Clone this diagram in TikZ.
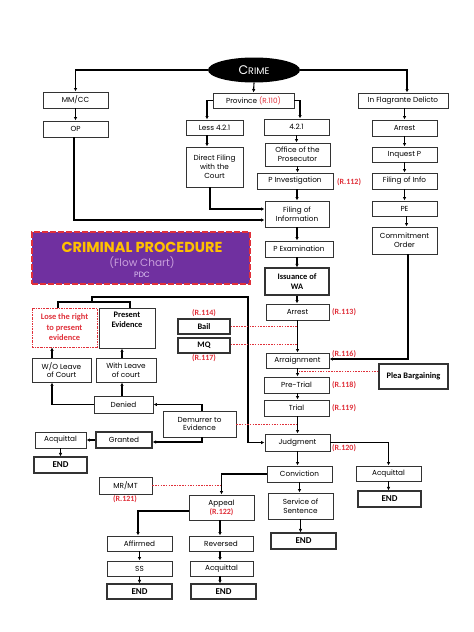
\documentclass[tikz,border=0pt]{standalone}
\usepackage{fontspec}
\setmainfont{Poppins}
\newfontfamily\cb{Carlito}
\usetikzlibrary{arrows.meta,calc,shapes.geometric}
\definecolor{rl}{HTML}{E0303A}
\definecolor{tpurple}{HTML}{7030A0}
\definecolor{tgold}{HTML}{FFC000}
\definecolor{tlav}{HTML}{C9A0DC}
\definecolor{tlav2}{HTML}{E0C8F4}
\begin{document}
\begin{tikzpicture}[x=1pt,y=-1pt,
 box/.style={draw=black!80, line width=0.9pt, fill=white, align=center, font=\fontsize{7.3}{8.8}\selectfont, inner sep=1pt},
 bbox/.style={box, line width=1.2pt, font=\cb\bfseries\fontsize{8.4}{10}\selectfont},
 ebox/.style={bbox, font=\cb\bfseries\fontsize{9}{10}\selectfont},
 arr/.style={-{Latex[length=3.5pt,width=3.5pt]}, line width=1.1pt},
 ln/.style={line width=1.1pt},
 dotl/.style={rl, dash pattern=on 1.5pt off 1.2pt, line width=0.7pt},
 rlab/.style={text=rl, font=\cb\bfseries\fontsize{8}{9}\selectfont, inner sep=0pt},
]
\useasboundingbox (0,0) rectangle (474,632);
\fill[white] (0,0) rectangle (474,632);

% title
\node[draw=rl, fill=tpurple, line width=1.6pt, dash pattern=on 6pt off 2pt, minimum width=218pt, minimum height=52pt] (title) at (141,258) {};
\node[text=tgold, font=\bfseries\fontsize{14.5}{15}\selectfont, inner sep=0pt] (t1) at (142,247) {CRIMINAL PROCEDURE};
\node[text=tlav, font=\fontsize{10.5}{11}\selectfont, inner sep=0pt] (t2) at (142,263) {(Flow Chart)};
\node[text=tlav2, font=\fontsize{7.7}{8}\selectfont, inner sep=0pt] (t3) at (142,274.5) {PDC};

% top
\node[ellipse, fill=black, minimum width=92pt, minimum height=25pt, inner sep=0pt, text=white] (crime) at (254,70) {{\fontsize{12.5}{13}\selectfont C}{\fontsize{9.5}{10}\selectfont RIME}};
\node[box, minimum width=65pt, minimum height=16pt] (mmcc) at (75.5,100) {MM/CC};
\node[box, minimum width=65pt, minimum height=16pt] (op) at (75.5,129) {OP};
\node[box, minimum width=81pt, minimum height=15pt] (prov) at (253.5,100.5) {Province {\color{rl}(R.110)}};
\node[box, minimum width=57pt, minimum height=15pt] (less) at (214.5,127.5) {Less 4.2.1};
\node[box, minimum width=65pt, minimum height=16pt] (f421) at (296.5,127) {4.2.1};
\node[box, minimum width=57pt, minimum height=40pt] (direct) at (214.5,167) {Direct Filing\\with the\\Court};
\node[box, minimum width=65pt, minimum height=23pt] (office) at (297.5,154.5) {Office of the\\Prosecutor};
\node[box, minimum width=76pt, minimum height=16pt] (pinv) at (295,181) {P Investigation};
\node[box, minimum width=64pt, minimum height=26pt] (filing) at (297,214) {Filing of\\Information};
\node[box, minimum width=68pt, minimum height=16pt] (pexam) at (299,249) {P Examination};
\node[bbox, minimum width=64pt, minimum height=27pt] (issue) at (297,281.5) {Issuance of\\WA};
\node[box, minimum width=63pt, minimum height=16pt] (arrest) at (297.5,312) {Arrest};
\node[box, minimum width=63pt, minimum height=15pt] (arraign) at (297.5,360.5) {Arraignment};
\node[box, minimum width=65pt, minimum height=16pt] (pretrial) at (296.5,385) {Pre-Trial};
\node[box, minimum width=65pt, minimum height=16pt] (trial) at (296.5,408) {Trial};
\node[box, minimum width=65pt, minimum height=17pt] (judg) at (297.5,442.5) {Judgment};
\node[box, minimum width=65pt, minimum height=16pt] (conv) at (299.5,474) {Conviction};
\node[box, minimum width=65pt, minimum height=26pt] (serv) at (300.5,506) {Service of\\Sentence};
\node[ebox, minimum width=65pt, minimum height=16pt] (endS) at (303.5,541) {END};
\node[box, minimum width=65pt, minimum height=15pt] (acqR) at (388.5,473.5) {Acquittal};
\node[ebox, minimum width=63pt, minimum height=16pt] (endR) at (389.5,499) {END};
\node[box, minimum width=65pt, minimum height=25pt] (appeal) at (221.5,507.5) {Appeal\\{\cb\bfseries\fontsize{8}{9}\selectfont\color{rl}(R.122)}};
\node[box, minimum width=53pt, minimum height=17pt] (mrmt) at (125.5,485.5) {MR/MT};
\node[box, minimum width=65pt, minimum height=15pt] (affirm) at (139.5,543.5) {Affirmed};
\node[box, minimum width=65pt, minimum height=15pt] (ss) at (139.5,568.5) {SS};
\node[ebox, minimum width=65pt, minimum height=15pt] (endA) at (139.5,591.5) {END};
\node[box, minimum width=64pt, minimum height=15pt] (rev) at (221,543.5) {Reversed};
\node[box, minimum width=63pt, minimum height=15pt] (acqM) at (221.5,568.5) {Acquittal};
\node[ebox, minimum width=65pt, minimum height=15pt] (endM) at (223.5,591.5) {END};

% right column
\node[box, minimum width=90pt, minimum height=15pt] (inflag) at (403,100.5) {In Flagrante Delicto};
\node[box, minimum width=65pt, minimum height=16pt] (arrest2) at (404.5,128) {Arrest};
\node[box, minimum width=65pt, minimum height=15pt] (inq) at (404.5,154.5) {Inquest P};
\node[box, minimum width=65pt, minimum height=16pt] (finfo) at (404.5,181) {Filing of Info};
\node[box, minimum width=65pt, minimum height=15pt] (pe) at (404.5,208.5) {PE};
\node[box, minimum width=65pt, minimum height=27pt] (commit) at (404.5,240.5) {Commitment\\Order};
\node[bbox, minimum width=69pt, minimum height=25pt] (plea) at (413.5,376.5) {Plea Bargaining};

% left middle
\node[draw=rl, line width=0.8pt, dash pattern=on 2pt off 1pt on 0.6pt off 1pt, align=center, minimum width=65pt, minimum height=39pt, inner sep=1pt, text=rl, font=\cb\bfseries\fontsize{8.4}{10.5}\selectfont] (lose) at (64.5,327.5) {Lose the right\\to present\\evidence};
\node[bbox, line width=0.9pt, minimum width=56pt, minimum height=40pt] (present) at (127,328) {Present\\Evidence\\[6pt]};
\node[bbox, minimum width=52pt, minimum height=15pt] (bail) at (204,326.5) {Bail};
\node[bbox, minimum width=52pt, minimum height=15pt] (mq) at (204,345.5) {MQ};
\node[box, minimum width=59pt, minimum height=24pt] (wo) at (61.5,370) {W/O Leave\\of Court};
\node[box, minimum width=60pt, minimum height=24pt] (withl) at (126,370) {With Leave\\of court};
\node[box, minimum width=59pt, minimum height=17pt] (denied) at (123.5,404.5) {Denied};
\node[box, minimum width=73pt, minimum height=26pt] (dem) at (199.5,424) {Demurrer to\\Evidence};
\node[box, line width=1.2pt, minimum width=56pt, minimum height=16pt] (granted) at (124,440) {Granted};
\node[box, minimum width=51pt, minimum height=16pt] (acqL) at (60.5,440) {Acquittal};
\node[ebox, minimum width=53pt, minimum height=16pt] (endL) at (60.5,465) {END};

% red labels
\node[rlab, anchor=west] (r112) at (337,182) {(R.112)};
\node[rlab, anchor=west] (r113) at (332,312) {(R.113)};
\node[rlab, anchor=west] (r116) at (332,354) {(R.116)};
\node[rlab, anchor=west] (r118) at (332,385) {(R.118)};
\node[rlab, anchor=west] (r119) at (332,408) {(R.119)};
\node[rlab, anchor=west] (r120) at (332,448) {(R.120)};
\node[rlab] (r114) at (204,313) {(R.114)};
\node[rlab] (r117) at (204,358.5) {(R.117)};
\node[rlab] (r121) at (125,499.5) {(R.121)};

% connectors top
\draw[arr] (crime.west) -| (mmcc.north);
\draw[arr] (crime.south) -- (prov.north);
\draw[arr] (crime.east) -| ([xshift=4pt]inflag.north);
\draw[arr] (mmcc.south) -- (op.south |- op.north);
\coordinate (opc) at ($(filing.west)+(0,6)$);
\draw[arr] ([xshift=-1.5pt]op.south) |- (opc);
\draw[arr] (prov.west) -| ([xshift=-7.5pt]less.north);
\draw[arr] (prov.east) -| ([xshift=3.5pt]f421.north);
\draw[arr] ([xshift=-7.5pt]less.south) -- ([xshift=-7.5pt]direct.north);
\coordinate (dfc) at ($(filing.west)+(0,-5)$);
\draw[arr] ([xshift=-4.5pt]direct.south) |- (dfc);
\draw[arr] (f421.south) -- (f421.south |- office.north);
\draw[arr] (office.south) -- (office.south |- pinv.north);
\draw[arr] (pinv.south -| filing.north) -- (filing.north);
\draw[arr] (filing.south) -- (filing.south |- pexam.north);
\draw[arr] (filing.south |- pexam.south) -- (filing.south |- issue.north);
\draw[arr] (issue.south) -- (issue.south |- arrest.north);
\draw[arr] (arrest.south) -- (arrest.south |- arraign.north);
\draw[arr] (arraign.south) -- (arraign.south |- pretrial.north);
\draw[arr] (arraign.south |- pretrial.south) -- (arraign.south |- trial.north);
\draw[arr] (arraign.south |- trial.south) -- (arraign.south |- judg.north);
\draw[arr] (judg.south) -- (judg.south |- conv.north);
\draw[arr] (conv.south) -- (conv.south |- serv.north);
\draw[arr] (serv.south) -- (serv.south |- endS.north);
\draw[arr] (judg.east) -| (acqR.north);
\draw[arr] (acqR.south) -- (acqR.south |- endR.north);
\draw[arr] (conv.west) -| (appeal.north);
\draw[arr] ([yshift=-3.5pt]appeal.west) -| ([xshift=-1.5pt]affirm.north);
\draw[arr] ([xshift=-1.5pt]appeal.south) -- ([xshift=-1.5pt]appeal.south |- rev.north);
\draw[arr] ([xshift=-1.5pt]appeal.south |- rev.south) -- ([xshift=-1.5pt]appeal.south |- acqM.north);
\draw[arr] ([xshift=-1.5pt]appeal.south |- acqM.south) -- ([xshift=-1.5pt]appeal.south |- endM.north);
\draw[arr] (affirm.south) -- (affirm.south |- ss.north);
\draw[arr] (ss.south) -- (ss.south |- endA.north);

% right column connectors
\draw[arr] ([xshift=1.5pt]inflag.south) -- ([xshift=1.5pt]inflag.south |- arrest2.north);
\draw[arr] (arrest2.south) -- (arrest2.south |- inq.north);
\draw[arr] (inq.south) -- (inq.south |- finfo.north);
\draw[arr] (finfo.south) -- (finfo.south |- pe.north);
\draw[arr] ([xshift=2pt]pe.south) -- ([xshift=2pt]pe.south |- commit.north);
\draw[arr] ([xshift=3.5pt]commit.south) |- ([yshift=1.5pt]arraign.east);

% left middle connectors
\coordinate (bl) at (58,302);
\coordinate (br) at (130,302);
\coordinate (bm) at (92,302);
\coordinate (bt) at (248,297);
\draw[ln] (lose.north -| bl) -- (bl) -- (br) -- (present.north -| br);
\draw[arr] (bm) |- (bt) |- (judg.west);
\draw[arr] ([xshift=-9.5pt]wo.north) -- ([xshift=-9.5pt]wo.north |- lose.south);
\draw[arr] ([xshift=-4pt]withl.north) -- ([xshift=-4pt]withl.north |- present.south);
\draw[arr] (denied.west) -| ([xshift=-9.5pt]wo.south);
\draw[arr] ([xshift=-1.5pt]denied.north) -- ([xshift=-1.5pt]denied.north |- withl.south);
\draw[arr] ([xshift=2.5pt]dem.north) |- (denied.east);
\draw[arr] ([xshift=2.5pt]dem.south) |- ([yshift=-2pt]granted.east);
\draw[arr] (granted.west) -- (acqL.east);
\draw[arr] (acqL.south) -- (acqL.south |- endL.north);

% dotted red
\draw[dotl] (bail.east) -- (bail.east -| arrest.south);
\draw[dotl] ([yshift=1.5pt]mq.east) -- ([yshift=1.5pt]mq.east -| arrest.south);
\draw[dotl] ([yshift=5.5pt]plea.west) -- ([yshift=5.5pt]plea.west -| arraign.south);
\draw[dotl] (dem.east) -- (dem.east -| trial.south);
\draw[dotl] (mrmt.east) -- (mrmt.east -| appeal.north);
\end{tikzpicture}
\end{document}
